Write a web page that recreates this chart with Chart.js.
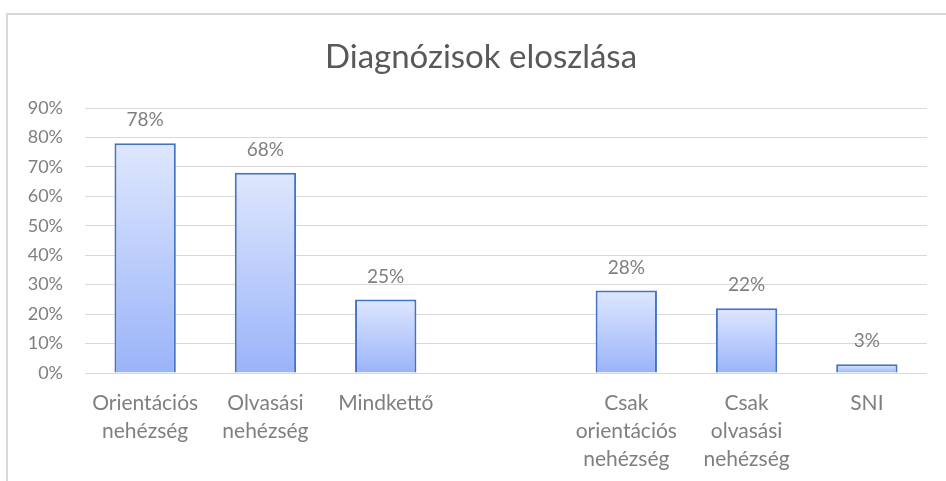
<!DOCTYPE html>
<html>
<head>
<meta charset="utf-8">
<script src="https://cdn.jsdelivr.net/npm/chart.js@4.4.1/dist/chart.umd.min.js"></script>
<style>
  html, body { margin: 0; padding: 0; background: #fff; }
  #wrap { position: relative; width: 946px; height: 481px; overflow: hidden; }
  #frame { position: absolute; left: 6px; top: 13px; width: 960px; height: 500px;
           border-left: 2px solid #d9d9d9; border-top: 2px solid #d9d9d9; box-sizing: border-box; }
  canvas { position: absolute; left: 0; top: 0; }
</style>
</head>
<body>
<div id="wrap">
  <div id="frame"></div>
  <canvas id="c" width="946" height="481"></canvas>
</div>
<script>
const chartTitle = 'Diagnózisok eloszlása';
const categories = [
  ['Orientációs', 'nehézség'],
  ['Olvasási', 'nehézség'],
  ['Mindkettő'],
  [''],
  ['Csak', 'orientációs', 'nehézség'],
  ['Csak', 'olvasási', 'nehézség'],
  ['SNI']
];
const values = [78, 68, 25, null, 28, 22, 3];
const yTicks = [0, 10, 20, 30, 40, 50, 60, 70, 80, 90];

const FONT = 'Lato, "Open Sans", sans-serif';

const labelPlugin = {
  id: 'barLabels',
  afterDatasetsDraw(chart) {
    const ctx = chart.ctx;
    const meta = chart.getDatasetMeta(0);
    ctx.save();
    ctx.font = '19px ' + FONT;
    ctx.fillStyle = '#7f7f7f';
    ctx.textAlign = 'center';
    ctx.textBaseline = 'middle';
    meta.data.forEach((el, i) => {
      const v = values[i];
      if (v === null || v === undefined) return;
      ctx.fillText(v + '%', el.x, el.y - 23);
    });
    ctx.restore();
  }
};

const titlePlugin = {
  id: 'frameTitle',
  afterDraw(chart) {
    const ctx = chart.ctx;
    ctx.save();
    ctx.font = '33px ' + FONT;
    ctx.fillStyle = '#595959';
    ctx.textAlign = 'center';
    ctx.textBaseline = 'middle';
    ctx.fillText(chartTitle, 481, 57);
    ctx.restore();
  }
};

function barGradient(context) {
  const chart = context.chart;
  const v = context.raw;
  const ys = chart.scales && chart.scales.y;
  if (v === null || v === undefined || !ys) return '#bccdfb';
  const top = ys.getPixelForValue(v);
  const bottom = ys.getPixelForValue(0);
  if (!isFinite(top) || !isFinite(bottom) || top === bottom) return '#bccdfb';
  const g = chart.ctx.createLinearGradient(0, top, 0, bottom);
  g.addColorStop(0, '#dee7fe');
  g.addColorStop(1, '#9ab4f9');
  return g;
}

new Chart(document.getElementById('c'), {
  type: 'bar',
  data: {
    labels: categories,
    datasets: [{
      data: values,
      backgroundColor: barGradient,
      borderColor: '#4472c4',
      borderWidth: 2,
      categoryPercentage: 1.0,
      barPercentage: 0.51
    }]
  },
  options: {
    responsive: false,
    animation: false,
    devicePixelRatio: 1,
    layout: { padding: { left: 8, right: 19, top: 108, bottom: 0 } },
    plugins: {
      legend: { display: false },
      tooltip: { enabled: false },
      title: { display: false }
    },
    scales: {
      x: {
        afterFit(scale) { scale.height = 108; },
        grid: { display: false, drawTicks: false },
        border: { display: false },
        ticks: {
          color: '#7f7f7f',
          font: { family: FONT, size: 21, lineHeight: 1.33 },
          padding: 16,
          maxRotation: 0,
          autoSkip: false
        }
      },
      y: {
        min: 0,
        max: 90,
        afterBuildTicks(scale) { scale.ticks = yTicks.map(v => ({ value: v })); },
        afterFit(scale) { scale.width = 77; },
        grid: { color: '#d9d9d9', lineWidth: 1, drawTicks: false },
        border: { display: false },
        ticks: {
          color: '#7f7f7f',
          font: { family: FONT, size: 18 },
          padding: 22,
          callback: (v) => v + '%'
        }
      }
    }
  },
  plugins: [labelPlugin, titlePlugin]
});
</script>
</body>
</html>
